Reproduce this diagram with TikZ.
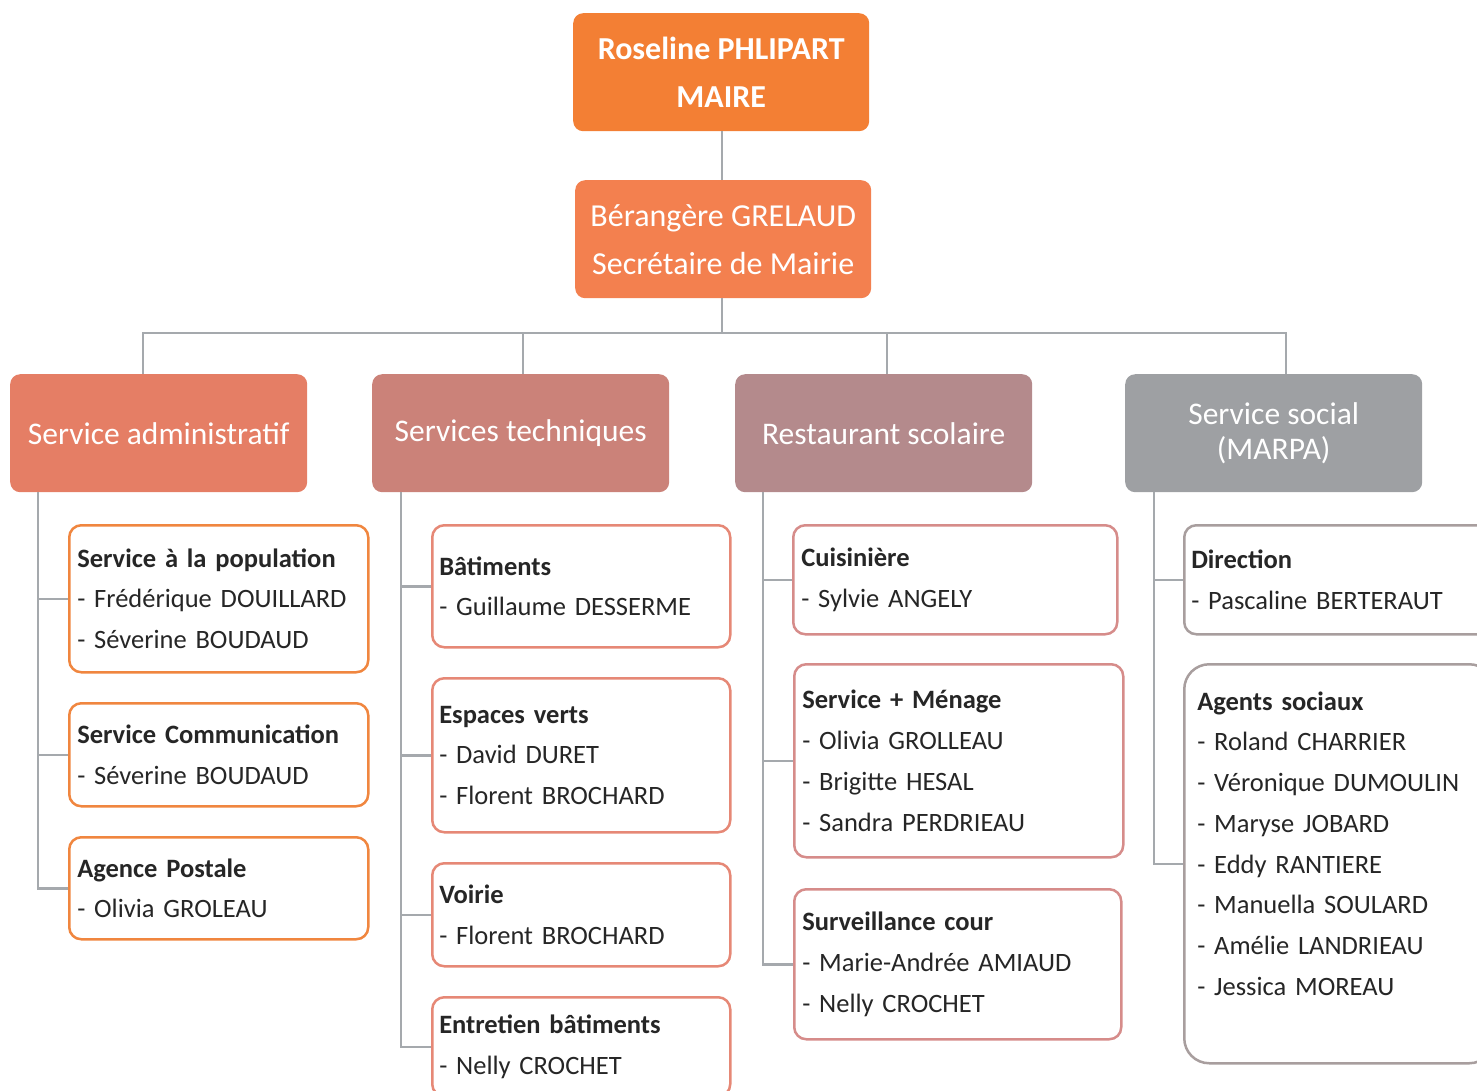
\documentclass[tikz,border=0pt]{standalone}
\usepackage{fontspec}
\setmainfont{Carlito}
\usetikzlibrary{positioning}

\definecolor{maireorange}{HTML}{F37F34}
\definecolor{secrorange}{HTML}{F3804F}
\definecolor{admfill}{HTML}{E57E65}
\definecolor{tecfill}{HTML}{CB8279}
\definecolor{resfill}{HTML}{B48A8C}
\definecolor{socfill}{HTML}{9EA0A3}
\definecolor{admline}{HTML}{F0863F}
\definecolor{tecline}{HTML}{E68876}
\definecolor{resline}{HTML}{D68C8A}
\definecolor{socline}{HTML}{A89E9E}
\definecolor{linegray}{HTML}{A5A9AD}
\definecolor{textgray}{HTML}{262626}

\tikzset{
  topbox/.style={fill=#1, rounded corners=10pt, text=white, align=center,
    anchor=north west, inner sep=0pt, minimum width=296pt, minimum height=118pt,
    font=\fontsize{32}{48}\selectfont},
  headbox/.style={fill=#1, rounded corners=10pt, text=white, align=center,
    anchor=north west, inner sep=0pt, minimum width=297pt, minimum height=118pt,
    font=\fontsize{31.5}{35}\selectfont},
  unitbox/.style={draw=#1, line width=2.5pt, rounded corners=12pt, fill=white,
    align=left, anchor=north west, inner xsep=8pt, inner ysep=0pt, text=textgray,
    font=\fontsize{26.5}{40.7}\selectfont},
  conn/.style={draw=linegray, line width=2.5pt},
}

\begin{document}
\begin{tikzpicture}[x=1pt, y=-1pt]
\useasboundingbox (0,0) rectangle (1477,1090);
\clip (0,0) rectangle (1477,1090);

% direction
\node[topbox=maireorange] (maire) at (573,13) {\textbf{Roseline PHLIPART}\\\textbf{MAIRE}};
\node[topbox=secrorange] (secr) at (575,180) {Bérangère GRELAUD\\Secrétaire de Mairie};
\coordinate (bus) at (722,333);

% services
\node[headbox=admfill] (adm) at (10,374) {Service administratif};
\node[headbox=tecfill] (tec) at (372,374) {Services techniques};
\node[headbox=resfill] (res) at (735,374) {Restaurant scolaire};
\node[headbox=socfill] (soc) at (1125,374) {Service social\\(MARPA)};

\draw[conn] (bus |- maire.south) -- (bus |- secr.north);
\draw[conn] (bus |- secr.south) -- (bus);
\draw[conn] ([xshift=-15.5pt]adm.north) |- (bus) -| ([xshift=12.5pt]soc.north);
\draw[conn] ([xshift=2.5pt]tec.north) |- (bus);
\draw[conn] ([xshift=3.5pt]res.north) |- (bus);

% service administratif
\node[unitbox=admline, minimum width=299pt, minimum height=147pt, text width=283pt] (pop) at (68,524)
  {\textbf{Service à la population}\\- Frédérique DOUILLARD\\- Séverine BOUDAUD};
\node[unitbox=admline, minimum width=299pt, minimum height=103pt, text width=283pt] (com) at (68,702)
  {\textbf{Service Communication}\\- Séverine BOUDAUD};
\node[unitbox=admline, minimum width=299pt, minimum height=102pt, text width=283pt] (agp) at (68,836)
  {\textbf{Agence Postale}\\- Olivia GROLEAU};
\foreach \u in {pop,com,agp}
  \draw[conn] ([xshift=28pt]adm.south west) |- (\u.west);

% services techniques
\node[unitbox=tecline, minimum width=298pt, minimum height=122pt, text width=284pt, inner xsep=7pt] (bat) at (431,524)
  {\textbf{Bâtiments}\\- Guillaume DESSERME};
\node[unitbox=tecline, minimum width=298pt, minimum height=154pt, text width=284pt, inner xsep=7pt] (esv) at (431,677)
  {\textbf{Espaces verts}\\- David DURET\\- Florent BROCHARD};
\node[unitbox=tecline, minimum width=298pt, minimum height=103pt, text width=284pt, inner xsep=7pt] (voi) at (431,862)
  {\textbf{Voirie}\\- Florent BROCHARD};
\node[unitbox=tecline, minimum width=298pt, minimum height=99pt, text width=284pt, inner xsep=7pt] (ent) at (431,996)
  {\textbf{Entretien bâtiments}\\- Nelly CROCHET};
\foreach \u in {bat,esv,voi,ent}
  \draw[conn] ([xshift=29pt]tec.south west) |- (\u.west);

% restaurant scolaire
\node[unitbox=resline, minimum width=324pt, minimum height=109pt, text width=308pt] (cui) at (792,524)
  {\textbf{Cuisinière}\\- Sylvie ANGELY};
\node[unitbox=resline, minimum width=329pt, minimum height=193pt, text width=313pt] (men) at (793,663)
  {\textbf{Service + Ménage}\\- Olivia GROLLEAU\\- Brigitte HESAL\\- Sandra PERDRIEAU};
\node[unitbox=resline, minimum width=327pt, minimum height=150pt, text width=311pt] (sur) at (793,888)
  {\textbf{Surveillance cour}\\- Marie-Andrée AMIAUD\\- Nelly CROCHET};
\foreach \u in {cui,men,sur}
  \draw[conn] ([xshift=28pt]res.south west) |- (\u.west);

% service social
\node[unitbox=socline, minimum width=310pt, minimum height=109pt, text width=296pt, inner xsep=7pt] (dir) at (1183,524)
  {\textbf{Direction}\\- Pascaline BERTERAUT};
\node[unitbox=socline, rounded corners=25pt, minimum width=310pt, minimum height=399pt, text width=284pt, inner xsep=13pt] (age) at (1183,663)
  {\textbf{Agents sociaux}\\- Roland CHARRIER\\- Véronique DUMOULIN\\- Maryse JOBARD\\- Eddy RANTIERE\\- Manuella SOULARD\\- Amélie LANDRIEAU\\- Jessica MOREAU\\\mbox{}};
\foreach \u in {dir,age}
  \draw[conn] ([xshift=29pt]soc.south west) |- (\u.west);
\end{tikzpicture}
\end{document}
